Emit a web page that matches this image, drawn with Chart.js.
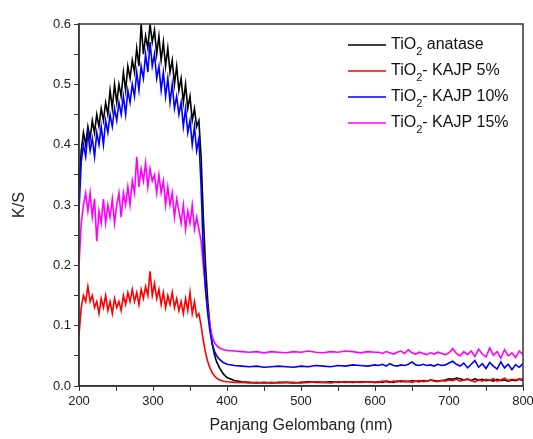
<!DOCTYPE html>
<html>
<head>
<meta charset="utf-8">
<script src="https://cdn.jsdelivr.net/npm/chart.js@4"></script>
<style>
  html, body { margin: 0; padding: 0; background: #fff; }
  #wrap { width: 533px; height: 439px; }
</style>
</head>
<body>
<div id="wrap"><canvas id="ksChart" width="533" height="439"></canvas></div>
<script>
// wavelengths (nm)
const wavelengths = [
  200,203,206,209,212,215,218,221,
  224,227,230,233,236,239,242,245,
  248,251,254,257,260,263,266,269,
  272,275,278,281,284,287,290,293,
  296,299,302,305,308,311,314,317,
  320,323,326,329,332,335,338,341,
  344,347,350,353,356,359,362,365,
  368,371,374,377,380,383,386,390,395,400,410,420,
  430,440,450,460,470,480,490,500,510,520,530,540,550,560,570,580,590,600,
  605,610,615,620,625,630,635,640,645,650,655,660,665,670,675,680,685,690,695,700,
  705,710,715,720,725,730,735,740,745,750,755,760,765,770,775,780,785,790,795,800
];

const seriesNames = ["anatase", "- KAJP 5%", "- KAJP 10%", "- KAJP 15%"];

const anatase = [
  0.33,0.39,0.42,0.40,0.43,0.41,0.44,0.42,
  0.45,0.43,0.46,0.44,0.47,0.45,0.49,0.46,
  0.50,0.47,0.50,0.48,0.52,0.49,0.53,0.51,
  0.54,0.52,0.56,0.53,0.60,0.55,0.58,0.56,
  0.60,0.57,0.59,0.55,0.58,0.54,0.57,0.53,
  0.56,0.52,0.54,0.50,0.53,0.49,0.51,0.47,
  0.50,0.46,0.48,0.44,0.46,0.43,0.44,0.38,
  0.28,0.20,0.14,0.10,0.07,0.052,0.04,0.03,0.02,0.014,0.009,0.007,
  0.006,0.005,0.006,0.005,0.006,0.006,0.005,0.006,0.007,0.006,0.006,0.007,0.006,0.007,0.006,0.007,0.007,0.006,
  0.007,0.006,0.008,0.007,0.006,0.008,0.007,0.008,0.007,0.009,0.008,0.007,0.009,0.008,0.010,0.009,0.008,0.009,0.010,0.012,
  0.011,0.013,0.012,0.010,0.011,0.009,0.012,0.010,0.011,0.009,0.010,0.008,0.011,0.009,0.010,0.008,0.010,0.009,0.011,0.009
];

const kajp5 = [
  0.085,0.13,0.15,0.14,0.165,0.14,0.15,0.13,
  0.14,0.12,0.145,0.13,0.15,0.125,0.14,0.12,
  0.145,0.13,0.14,0.125,0.15,0.135,0.155,0.14,
  0.16,0.14,0.155,0.135,0.16,0.145,0.165,0.15,
  0.19,0.15,0.17,0.145,0.16,0.135,0.155,0.13,
  0.15,0.135,0.155,0.13,0.145,0.125,0.14,0.12,
  0.145,0.125,0.155,0.12,0.14,0.115,0.12,0.10,
  0.075,0.055,0.04,0.03,0.022,0.017,0.013,0.010,0.008,0.007,0.006,0.006,
  0.005,0.006,0.005,0.006,0.005,0.006,0.006,0.005,0.006,0.007,0.006,0.005,0.007,0.006,0.007,0.006,0.007,0.006,
  0.006,0.008,0.007,0.006,0.008,0.007,0.009,0.007,0.008,0.006,0.008,0.009,0.007,0.008,0.010,0.008,0.007,0.009,0.008,0.010,
  0.009,0.011,0.008,0.010,0.012,0.009,0.007,0.010,0.008,0.011,0.009,0.012,0.008,0.010,0.013,0.009,0.011,0.010,0.012,0.011
];

const kajp10 = [
  0.29,0.37,0.40,0.38,0.42,0.39,0.41,0.38,
  0.42,0.40,0.43,0.40,0.44,0.42,0.45,0.43,
  0.46,0.44,0.47,0.45,0.48,0.45,0.49,0.47,
  0.50,0.48,0.52,0.49,0.53,0.51,0.55,0.52,
  0.57,0.53,0.55,0.51,0.53,0.49,0.52,0.48,
  0.51,0.47,0.50,0.46,0.48,0.45,0.47,0.43,
  0.46,0.42,0.44,0.40,0.43,0.39,0.41,0.33,
  0.22,0.16,0.12,0.09,0.07,0.058,0.05,0.044,0.039,0.036,0.034,0.033,
  0.032,0.033,0.031,0.032,0.033,0.032,0.031,0.033,0.032,0.034,0.033,0.032,0.034,0.033,0.035,0.034,0.033,0.035,
  0.034,0.036,0.033,0.037,0.034,0.033,0.035,0.034,0.036,0.040,0.035,0.034,0.036,0.034,0.035,0.033,0.036,0.034,0.035,0.038,
  0.041,0.036,0.033,0.038,0.030,0.036,0.042,0.031,0.037,0.029,0.039,0.033,0.028,0.040,0.030,0.036,0.027,0.035,0.031,0.037
];

const kajp15 = [
  0.20,0.27,0.30,0.32,0.29,0.32,0.28,0.31,
  0.24,0.29,0.27,0.31,0.27,0.30,0.28,0.31,
  0.27,0.30,0.32,0.28,0.32,0.30,0.33,0.30,
  0.34,0.32,0.38,0.33,0.36,0.34,0.37,0.33,
  0.36,0.34,0.35,0.32,0.35,0.32,0.34,0.30,
  0.33,0.30,0.32,0.28,0.31,0.29,0.27,0.30,
  0.26,0.29,0.27,0.30,0.26,0.28,0.26,0.24,
  0.20,0.16,0.125,0.10,0.082,0.072,0.067,0.063,0.060,0.059,0.058,0.057,
  0.056,0.057,0.055,0.057,0.056,0.055,0.057,0.056,0.058,0.056,0.055,0.057,0.056,0.058,0.057,0.055,0.057,0.056,
  0.056,0.054,0.057,0.055,0.053,0.056,0.058,0.054,0.060,0.055,0.053,0.056,0.054,0.052,0.055,0.053,0.056,0.054,0.052,0.055,
  0.062,0.054,0.050,0.057,0.052,0.058,0.049,0.061,0.053,0.048,0.063,0.051,0.057,0.046,0.060,0.050,0.055,0.047,0.058,0.052
];

const colors = ["#000000", "#ff0000", "#0000ff", "#ff00ff"];

function toPoints(vals) {
  return vals.map((v, i) => ({ x: wavelengths[i], y: v }));
}

// ===== FRAME (top + right border) =====
const framePlugin = {
  id: "frame",
  afterDraw(chart) {
    const a = chart.chartArea;
    const ctx = chart.ctx;
    ctx.save();
    ctx.strokeStyle = "#333";
    ctx.lineWidth = 1.5;
    ctx.strokeRect(a.left, a.top, a.right - a.left, a.bottom - a.top);
    ctx.restore();
  }
};

// ===== LEGEND with subscript =====
const legendPlugin = {
  id: "subLegend",
  afterDraw(chart) {
    const ctx = chart.ctx;
    ctx.save();
    chart.data.datasets.forEach((ds, i) => {
      const y = 45 + i * 26;
      ctx.strokeStyle = ds.borderColor;
      ctx.lineWidth = 1.5;
      ctx.beginPath();
      ctx.moveTo(348, y);
      ctx.lineTo(386, y);
      ctx.stroke();

      let x = 391;
      ctx.fillStyle = "#111";
      ctx.textBaseline = "middle";
      ctx.font = "16px Arial, 'Liberation Sans', sans-serif";
      ctx.fillText("TiO", x, y);
      x += ctx.measureText("TiO").width;
      ctx.font = "11px Arial, 'Liberation Sans', sans-serif";
      ctx.fillText("2", x, y + 7);
      x += ctx.measureText("2").width;
      ctx.font = "16px Arial, 'Liberation Sans', sans-serif";
      const rest = seriesNames[i].startsWith("-") ? seriesNames[i] : " " + seriesNames[i];
      ctx.fillText(rest, x, y);
    });
    ctx.restore();
  }
};

new Chart(document.getElementById("ksChart"), {
  type: "line",
  data: {
    datasets: [
      { label: "TiO2 anatase", data: toPoints(anatase), borderColor: colors[0], order: 3 },
      { label: "TiO2- KAJP 5%", data: toPoints(kajp5), borderColor: colors[1], order: 0 },
      { label: "TiO2- KAJP 10%", data: toPoints(kajp10), borderColor: colors[2], order: 1 },
      { label: "TiO2- KAJP 15%", data: toPoints(kajp15), borderColor: colors[3], order: 2 }
    ]
  },
  options: {
    responsive: false,
    animation: false,
    parsing: false,
    elements: {
      point: { radius: 0 },
      line: { borderWidth: 1.6, tension: 0 }
    },
    layout: {
      autoPadding: false,
      padding: { top: 24, right: 10, left: 0, bottom: 0 }
    },
    plugins: {
      legend: { display: false },
      tooltip: { enabled: false }
    },
    scales: {
      x: {
        type: "linear",
        min: 200,
        max: 800,
        afterFit(s) { s.height = 53; s.paddingLeft = 0; s.paddingRight = 0; },
        border: { color: "#333", width: 1.5 },
        grid: { drawOnChartArea: false, drawTicks: true, tickLength: 5, color: "#333" },
        ticks: {
          stepSize: 50,
          autoSkip: false,
          maxRotation: 0,
          color: "#222",
          font: { size: 13, family: "Arial, 'Liberation Sans', sans-serif" },
          padding: 3,
          callback: v => (v % 100 === 0 ? String(v) : "")
        },
        title: {
          display: true,
          text: "Panjang Gelombang (nm)",
          color: "#222",
          font: { size: 16, family: "Arial, 'Liberation Sans', sans-serif" },
          padding: { top: 0, bottom: 4 }
        }
      },
      y: {
        min: 0,
        max: 0.6,
        afterFit(s) { s.width = 79; s.paddingTop = 0; s.paddingBottom = 0; },
        border: { color: "#333", width: 1.5 },
        grid: { drawOnChartArea: false, drawTicks: true, tickLength: 5, color: "#333" },
        ticks: {
          stepSize: 0.05,
          autoSkip: false,
          color: "#222",
          font: { size: 13, family: "Arial, 'Liberation Sans', sans-serif" },
          padding: 3,
          callback: v => (Math.round(v * 100) % 10 === 0 ? v.toFixed(1) : "")
        },
        title: {
          display: true,
          text: "K/S",
          color: "#222",
          font: { size: 16, family: "Arial, 'Liberation Sans', sans-serif" },
          padding: { top: 10, bottom: 4 }
        }
      }
    }
  },
  plugins: [framePlugin, legendPlugin]
});
</script>
</body>
</html>
